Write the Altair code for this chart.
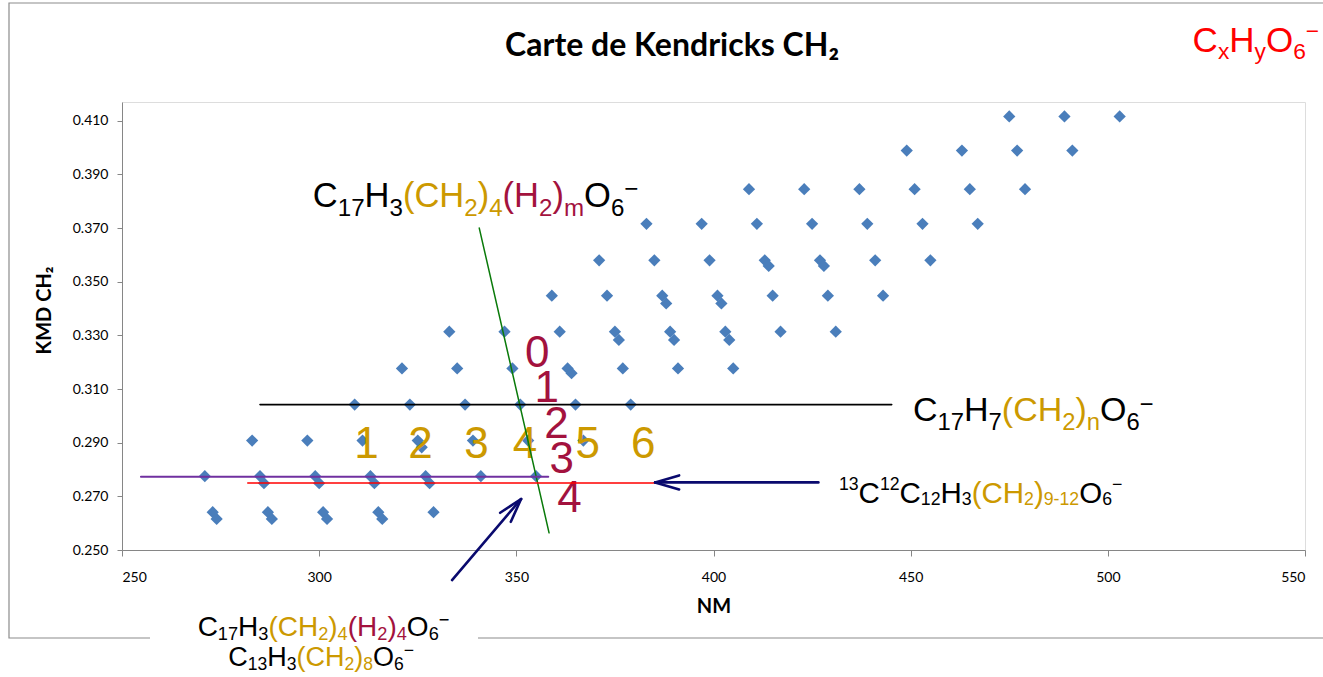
import math
import altair as alt
import pandas as pd

# ---------------- data ----------------
row_kmd = [0.2641, 0.2775, 0.2908, 0.3042, 0.3177, 0.3314,
           0.3448, 0.3580, 0.3716, 0.3845, 0.3989, 0.4116]
row_nm = [
    [273, 287, 301, 315, 329],
    [271, 285, 299, 313, 327, 341, 355],
    [283, 297, 311, 325, 339, 353, 367],
    [309, 323, 337, 351, 365, 379],
    [321, 335, 349, 363, 377, 391, 405],
    [333, 347, 361, 375, 389, 403, 417, 431],
    [359, 373, 387, 401, 415, 429, 443],
    [371, 385, 399, 413, 427, 441, 455],
    [383, 397, 411, 425, 439, 453, 467],
    [409, 423, 437, 451, 465, 479],
    [449, 463, 477, 491],
    [475, 489, 503],
]
iso_nm = [274, 288, 302, 316, 286, 300, 314, 328, 326, 364, 376, 390, 404, 388, 402, 414, 428]
iso_kmd = [0.2616, 0.2616, 0.2616, 0.2616, 0.2749, 0.2749, 0.2749, 0.2749, 0.2883,
           0.3159, 0.3283, 0.3283, 0.3283, 0.3419, 0.3419, 0.3559, 0.3559]

# straight guide lines
line_x1 = [340.6, 285.0, 254.8, 281.9]
line_y1 = [0.3700, 0.3042, 0.2773, 0.2750]
line_x2 = [358.3, 445.2, 358.1, 385.2]
line_y2 = [0.2564, 0.3042, 0.2773, 0.2750]
line_color = ["#0A7A0A", "#000000", "#7030A0", "#FF0000"]
line_width = [1.5, 1.6, 2.0, 1.6]

# arrows (tail -> tip)
arrow_tail_x = [426.6, 333.7]
arrow_tail_y = [0.2752, 0.2388]
arrow_tip_x = [385.2, 351.2]
arrow_tip_y = [0.2752, 0.2690]

# series digits
gold_digits = ["1", "2", "3", "4", "5", "6"]
gold_x = [312.0, 325.7, 339.9, 352.2, 368.1, 382.2]
gold_y = [0.2843, 0.2843, 0.2843, 0.2843, 0.2843, 0.2843]
maroon_digits = ["0", "1", "2", "3", "4"]
maroon_x = [355.3, 357.7, 360.2, 361.5, 363.5]
maroon_y = [0.3183, 0.3053, 0.2916, 0.2786, 0.2643]

# chart title (centre, baseline in data units)
title_text = ["Carte de Kendricks CH\u2082"]
title_x = [389.5]
title_y = [0.4341]

GOLD = "#CC9900"
MAROON = "#A3123E"
NAVY = "#0A0A6E"
BLUE = "#4A7EBB"
COLORS = {"K": "#000000", "G": GOLD, "M": MAROON, "R": "#FF0000"}

# formulas: (text, role n/b/p, colour)
f1 = [("C", "n", "K"), ("17", "b", "K"), ("H", "n", "K"), ("3", "b", "K"),
      ("(CH", "n", "G"), ("2", "b", "G"), (")", "n", "G"), ("4", "b", "G"),
      ("(H", "n", "M"), ("2", "b", "M"), (")", "n", "M"), ("m", "b", "M"),
      ("O", "n", "K"), ("6", "b", "K"), ("\u2212", "p", "K")]
f2 = [("C", "n", "K"), ("17", "b", "K"), ("H", "n", "K"), ("7", "b", "K"),
      ("(CH", "n", "G"), ("2", "b", "G"), (")", "n", "G"), ("n", "b", "G"),
      ("O", "n", "K"), ("6", "b", "K"), ("\u2212", "p", "K")]
f3 = [("13", "p", "K"), ("C", "n", "K"), ("12", "p", "K"), ("C", "n", "K"),
      ("12", "b", "K"), ("H", "n", "K"), ("3", "b", "K"),
      ("(CH", "n", "G"), ("2", "b", "G"), (")", "n", "G"), ("9-12", "b", "G"),
      ("O", "n", "K"), ("6", "b", "K"), ("\u2212", "p", "K")]
fb1 = [("C", "n", "K"), ("17", "b", "K"), ("H", "n", "K"), ("3", "b", "K"),
       ("(CH", "n", "G"), ("2", "b", "G"), (")", "n", "G"), ("4", "b", "G"),
       ("(H", "n", "M"), ("2", "b", "M"), (")", "n", "M"), ("4", "b", "M"),
       ("O", "n", "K"), ("6", "b", "K"), ("\u2212", "p", "K")]
fb2 = [("C", "n", "K"), ("13", "b", "K"), ("H", "n", "K"), ("3", "b", "K"),
       ("(CH", "n", "G"), ("2", "b", "G"), (")", "n", "G"), ("8", "b", "G"),
       ("O", "n", "K"), ("6", "b", "K"), ("\u2212", "p", "K")]
fr = [("C", "n", "R"), ("x", "b", "R"), ("H", "n", "R"), ("y", "b", "R"),
      ("O", "n", "R"), ("6", "b", "R"), ("\u2212", "p", "R")]

# ---------------- layout ----------------
W_PLOT, H_PLOT = 1183, 448
X_DOM = [250, 550]
Y_DOM = [0.25, 0.417]
PXX = W_PLOT / (X_DOM[1] - X_DOM[0])
PXY = H_PLOT / (Y_DOM[1] - Y_DOM[0])

# Arial / Liberation Sans advance widths
ADV = {"C": 722, "H": 722, "O": 778, "(": 333, ")": 333, "m": 833, "n": 556,
       "x": 500, "y": 500, "-": 333, "\u2212": 584}
for d in "0123456789":
    ADV[d] = 556


def seg_width(s, fs):
    return sum(ADV[c] for c in s) * fs / 1000.0


def build(spec, x0, y0, fs, r, drop, rise, center=False):
    sizes = [fs if role == "n" else fs * r for _, role, _ in spec]
    widths = [seg_width(t, s) for (t, _, _), s in zip(spec, sizes)]
    off = -sum(widths) / 2 if center else 0.0
    out = []
    for (t, role, c), s, w in zip(spec, sizes, widths):
        if role == "b":
            y = y0 - drop / PXY
        elif role == "p":
            y = y0 + rise / PXY
        else:
            y = y0
        out.append({"x": x0 + off / PXX, "y": y, "t": t, "fs": s, "c": COLORS[c]})
        off += w
    return out


seg_rows = []
seg_rows += build(f1, 298.4, 0.3778, 34.5, 0.7, 9, 10)
seg_rows += build(f2, 450.6, 0.2981, 34, 0.7, 9, 9)
seg_rows += build(f3, 431.8, 0.2675, 29.5, 0.6, 2, 13)
seg_rows += build(fb1, 301.1, 0.21794, 28, 0.65, 4, 10, center=True)
seg_rows += build(fb2, 300.5, 0.20676, 27, 0.65, 4, 10, center=True)
seg_rows += build(fr, 521.5, 0.4357, 35, 0.65, 7.5, 13)
seg_df = pd.DataFrame(seg_rows)

# points
pts = []
for k, row in zip(row_kmd, row_nm):
    for n in row:
        pts.append({"x": n, "y": k})
for n, k in zip(iso_nm, iso_kmd):
    pts.append({"x": n, "y": k})
pts_df = pd.DataFrame(pts)

# rules (lines + arrows)
rules = []
for a, b, c, d, col, w in zip(line_x1, line_y1, line_x2, line_y2, line_color, line_width):
    rules.append({"x": a, "y": b, "x2": c, "y2": d, "c": col, "w": w})


def wings(tx, ty, sx, sy, L=24.0, Wd=7.0):
    tpx, tpy = tx * PXX, -ty * PXY
    spx, spy = sx * PXX, -sy * PXY
    ux, uy = spx - tpx, spy - tpy
    n = math.hypot(ux, uy)
    ux, uy = ux / n, uy / n
    px_, py_ = -uy, ux
    res = []
    for sgn in (1, -1):
        wx = tpx + L * ux + sgn * Wd * px_
        wy = tpy + L * uy + sgn * Wd * py_
        res.append((wx / PXX, -wy / PXY))
    return res


for sx, sy, tx, ty in zip(arrow_tail_x, arrow_tail_y, arrow_tip_x, arrow_tip_y):
    rules.append({"x": sx, "y": sy, "x2": tx, "y2": ty, "c": NAVY, "w": 2.6})
    for wx, wy in wings(tx, ty, sx, sy):
        rules.append({"x": tx, "y": ty, "x2": wx, "y2": wy, "c": NAVY, "w": 2.6})
rules_df = pd.DataFrame(rules)

dig_rows = []
for t, x, y in zip(gold_digits, gold_x, gold_y):
    dig_rows.append({"x": x, "y": y, "t": t, "c": GOLD})
for t, x, y in zip(maroon_digits, maroon_x, maroon_y):
    dig_rows.append({"x": x, "y": y, "t": t, "c": MAROON})
dig_df = pd.DataFrame(dig_rows)

title_df = pd.DataFrame({"x": title_x, "y": title_y, "t": title_text})

# ---------------- encodings ----------------
xs = alt.Scale(domain=X_DOM, nice=False, zero=False)
ys = alt.Scale(domain=Y_DOM, nice=False, zero=False)
x_axis = alt.Axis(values=[250, 300, 350, 400, 450, 500, 550], format="d", title="NM",
                  grid=False, labelFont="Lato", labelFontSize=14, labelColor="#000000",
                  tickColor="#868686", domainColor="#868686", tickSize=6,
                  labelPadding=14, titleFont="Lato", titleFontSize=20,
                  titleFontWeight="bold", titleColor="#000000", titlePadding=12)
y_axis = alt.Axis(values=[0.25, 0.27, 0.29, 0.31, 0.33, 0.35, 0.37, 0.39, 0.41],
                  format=".3f", title="KMD CH\u2082", grid=False, labelFont="Lato",
                  labelFontSize=14, labelColor="#000000", tickColor="#868686",
                  domainColor="#868686", tickSize=5, labelPadding=9,
                  titleFont="Lato", titleFontSize=20, titleFontWeight="bold",
                  titleColor="#000000", titleX=-68, titleY=208)
X = alt.X("x:Q", scale=xs, axis=x_axis)
Y = alt.Y("y:Q", scale=ys, axis=y_axis)

dummy = pd.DataFrame({"a": [0]})
frame = alt.Chart(dummy).mark_rect(fillOpacity=0, stroke="#8C8C8C", strokeWidth=1.2).encode(
    x=alt.value(-113), x2=alt.value(1215), y=alt.value(-99), y2=alt.value(536))
whitebox = alt.Chart(dummy).mark_rect(fill="white").encode(
    x=alt.value(28), x2=alt.value(356), y=alt.value(512), y2=alt.value(580))

points = alt.Chart(pts_df).mark_point(shape="diamond", filled=True, size=150,
                                      color=BLUE, opacity=1).encode(x=X, y=Y)

digits = alt.Chart(dig_df).mark_text(font="Liberation Sans", fontSize=44, align="center",
                                     baseline="alphabetic").encode(
    x=X, y=Y, text="t:N", color=alt.Color("c:N", scale=None))

lines = alt.Chart(rules_df).mark_rule(strokeCap="round").encode(
    x=X, y=Y, x2="x2:Q", y2="y2:Q",
    color=alt.Color("c:N", scale=None), size=alt.Size("w:Q", scale=None))

formulas = alt.Chart(seg_df).mark_text(font="Liberation Sans", align="left",
                                       baseline="alphabetic").encode(
    x=X, y=Y, text="t:N", size=alt.Size("fs:Q", scale=None),
    color=alt.Color("c:N", scale=None))

title = alt.Chart(title_df).mark_text(font="Lato", fontSize=32, fontWeight="bold",
                                      color="#000000", align="center",
                                      baseline="alphabetic").encode(x=X, y=Y, text="t:N")

chart = alt.layer(frame, whitebox, points, digits, lines, formulas, title).properties(
    width=W_PLOT, height=H_PLOT,
    autosize=alt.AutoSizeParams(type="none"),
    padding={"left": 122, "top": 102, "right": 18, "bottom": 127},
).configure_view(stroke=None).configure(background="white")

chart.save("out.html", embed_options={"renderer": "svg", "actions": False})
